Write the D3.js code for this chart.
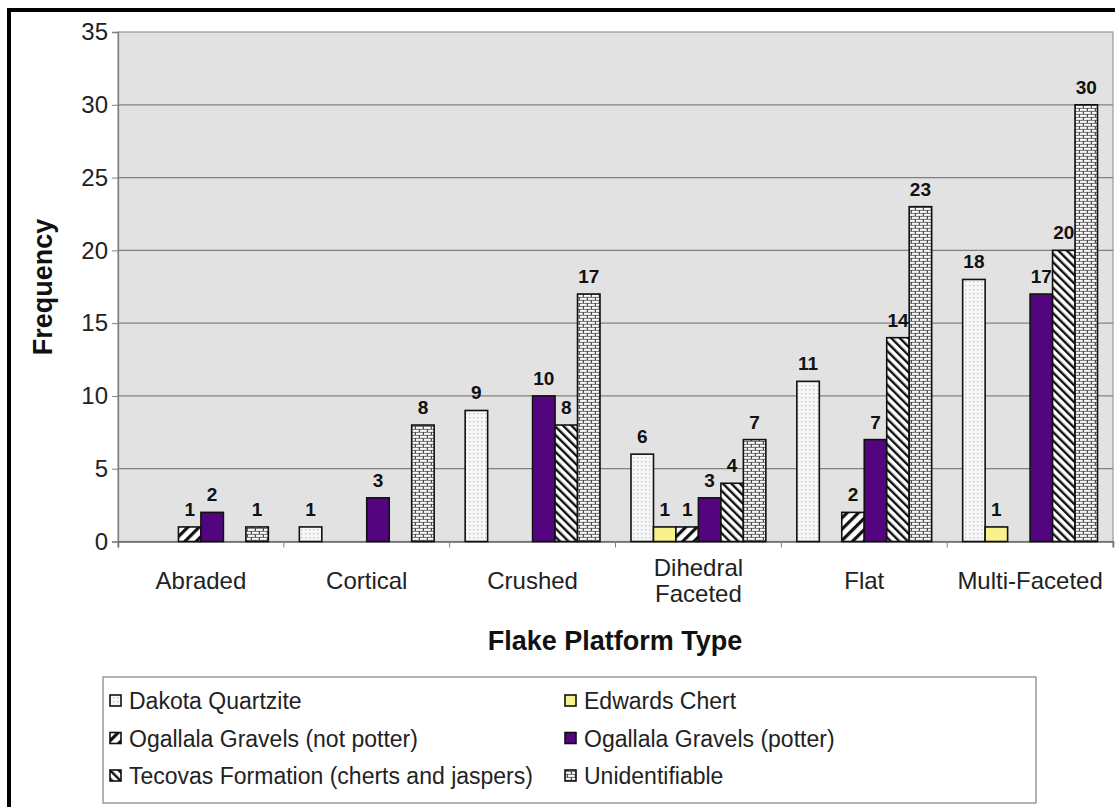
<!DOCTYPE html>
<html><head><meta charset="utf-8">
<script src="https://cdn.jsdelivr.net/npm/d3@7"></script>
<style>html,body{margin:0;padding:0;background:#fff;}svg{display:block;font-family:Arial,"Liberation Sans",sans-serif;}</style>
</head><body><svg id="c" width="1115" height="807"></svg>
<script>
const categories = ["Abraded","Cortical","Crushed","Dihedral Faceted","Flat","Multi-Faceted"];
const seriesNames = ["Dakota Quartzite","Edwards Chert","Ogallala Gravels (not potter)","Ogallala Gravels (potter)","Tecovas Formation (cherts and jaspers)","Unidentifiable"];
const dakota    = [0,1,9,6,11,18];
const edwards   = [0,0,0,1,0,1];
const ogNotPot  = [1,0,0,1,2,0];
const ogPotter  = [2,3,10,3,7,17];
const tecovas   = [0,0,8,4,14,20];
const unident   = [1,8,17,7,23,30];
const yTicks = [0,5,10,15,20,25,30,35];
const seriesValues = [dakota, edwards, ogNotPot, ogPotter, tecovas, unident];

const svg = d3.select("#c");
const defs = svg.append("defs");
// patterns
const pDots = defs.append("pattern").attr("id","p0").attr("patternUnits","userSpaceOnUse").attr("width",4).attr("height",4);
pDots.append("rect").attr("width",4).attr("height",4).attr("fill","#f7f7f7");
pDots.append("rect").attr("x",1).attr("y",1).attr("width",1.4).attr("height",1.4).attr("fill","#c4c4c4");
const pStr1 = defs.append("pattern").attr("id","p2").attr("patternUnits","userSpaceOnUse").attr("width",8).attr("height",8).attr("patternTransform","rotate(45)");
pStr1.append("rect").attr("width",8).attr("height",8).attr("fill","#fff");
pStr1.append("rect").attr("x",0).attr("width",3.2).attr("height",8).attr("fill","#111");
const pStr2 = defs.append("pattern").attr("id","p4").attr("patternUnits","userSpaceOnUse").attr("width",6).attr("height",6).attr("patternTransform","rotate(-45)");
pStr2.append("rect").attr("width",6).attr("height",6).attr("fill","#fff");
pStr2.append("rect").attr("x",0).attr("width",2.4).attr("height",6).attr("fill","#111");
const pBrick = defs.append("pattern").attr("id","p5").attr("patternUnits","userSpaceOnUse").attr("width",8).attr("height",6);
pBrick.append("rect").attr("width",8).attr("height",6).attr("fill","#4a4a4a");
pBrick.append("rect").attr("x",0).attr("y",0.7).attr("width",6.8).attr("height",2.2).attr("fill","#fbfbfb");
pBrick.append("rect").attr("x",-4).attr("y",3.7).attr("width",6.8).attr("height",2.2).attr("fill","#fbfbfb");
pBrick.append("rect").attr("x",4).attr("y",3.7).attr("width",6.8).attr("height",2.2).attr("fill","#fbfbfb");
const fills = ["url(#p0)","#f8f28c","url(#p2)","#52057f","url(#p4)","url(#p5)"];

// frame
svg.append("rect").attr("x",7).attr("y",8).attr("width",1115).attr("height",4).attr("fill","#000");
svg.append("rect").attr("x",7).attr("y",8).attr("width",4).attr("height",807).attr("fill","#000");

const L=118, R=1113, T=32, B=541.5;
const x0 = d3.scaleBand().domain(categories).range([L,R]).paddingInner(0).paddingOuter(0);
const gw = x0.bandwidth();
const x1 = d3.scaleBand().domain(d3.range(6)).range([15.5, gw-15.5]).padding(0);
const y = d3.scaleLinear().domain([0,35]).range([B,T]);

svg.append("rect").attr("x",L).attr("y",T).attr("width",R-L).attr("height",B-T).attr("fill","#e2e2e2").attr("stroke","#9a9a9a").attr("stroke-width",1.2);
svg.append("g").selectAll("line").data(yTicks.filter(d=>d>0&&d<35)).join("line")
  .attr("x1",L).attr("x2",R).attr("y1",d=>y(d)).attr("y2",d=>y(d)).attr("stroke","#808080").attr("stroke-width",1.3);

// axes
const yAxis = svg.append("g").attr("transform",`translate(${L},0)`).call(d3.axisLeft(y).tickValues(yTicks).tickSize(6).tickPadding(4));
yAxis.select(".domain").attr("stroke","#808080").attr("stroke-width",1.3);
yAxis.selectAll(".tick line").attr("stroke","#808080");
yAxis.selectAll("text").attr("font-size",24).attr("fill","#222").attr("font-family","Arial, 'Liberation Sans', sans-serif");

const xAxis = svg.append("g").attr("transform",`translate(0,${B})`).call(d3.axisBottom(x0).tickSize(6).tickFormat(""));
xAxis.select(".domain").attr("stroke","#666").attr("stroke-width",1.5);
svg.append("g").selectAll("line").data(d3.range(categories.length+1)).join("line")
  .attr("x1",i=>L+i*gw).attr("x2",i=>L+i*gw).attr("y1",B).attr("y2",B+6).attr("stroke","#808080");
xAxis.selectAll(".tick line").remove();

// category labels
const cl = svg.append("g");
categories.forEach(c=>{
  const parts = c==="Dihedral Faceted" ? ["Dihedral","Faceted"] : [c];
  const t = cl.append("text").attr("x",x0(c)+gw/2).attr("text-anchor","middle").attr("font-size",24).attr("fill","#222");
  if(parts.length===1){ t.attr("y",588.5).text(c); }
  else { parts.forEach((p,i)=>t.append("tspan").attr("x",x0(c)+gw/2).attr("y",575.5+i*26).text(p)); }
});

// bars
const bars = svg.append("g");
categories.forEach((c,ci)=>{
  seriesValues.forEach((vals,si)=>{
    const v = vals[ci];
    if(v<=0) return;
    const bx = x0(c)+x1(si);
    bars.append("rect").attr("x",bx).attr("y",y(v)).attr("width",x1.bandwidth()).attr("height",B-y(v))
      .attr("fill",fills[si]).attr("stroke","#111").attr("stroke-width",1.6);
    bars.append("text").attr("x",bx+x1.bandwidth()/2).attr("y",y(v)-11).attr("text-anchor","middle")
      .attr("font-size",19).attr("font-weight","bold").attr("fill","#111").text(v);
  });
});

// titles
svg.append("text").attr("x",615).attr("y",650).attr("text-anchor","middle").attr("font-size",27).attr("font-weight","bold").attr("fill","#111").text("Flake Platform Type");
svg.append("text").attr("transform","translate(52,287) rotate(-90)").attr("text-anchor","middle").attr("font-size",27).attr("font-weight","bold").attr("fill","#111").text("Frequency");

// legend
const lg = svg.append("g");
lg.append("rect").attr("x",103).attr("y",677).attr("width",933).attr("height",126).attr("fill","#fff").attr("stroke","#8a8a8a").attr("stroke-width",1.3);
const legPos = [[0,0],[1,0],[0,1],[1,1],[0,2],[1,2]];
seriesNames.forEach((n,i)=>{
  const [col,row] = legPos[i];
  const sx = col===0 ? 110 : 565;
  const sy = 701 + row*37.5;
  lg.append("rect").attr("x",sx).attr("y",sy-6).attr("width",11).attr("height",11).attr("fill",fills[i]).attr("stroke","#111").attr("stroke-width",1.6);
  lg.append("text").attr("x",sx+19).attr("y",sy+8).attr("font-size",23).attr("fill","#222").text(n);
});
</script></body></html>
